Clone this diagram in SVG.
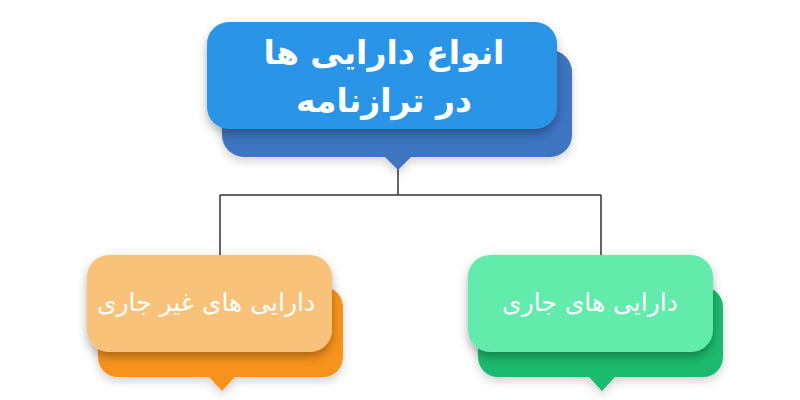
<svg xmlns="http://www.w3.org/2000/svg" width="800" height="400" viewBox="0 0 800 400">
<defs>
<style>
.t{font-family:"DejaVu Sans",sans-serif;fill:#fff;text-anchor:middle;direction:rtl}
.conn{stroke:#333;stroke-width:1.5;fill:none}
</style>
<filter id="sh" x="-20%" y="-20%" width="140%" height="160%">
<feDropShadow dx="0" dy="5" stdDeviation="5" flood-color="#000" flood-opacity="0.3"/>
</filter>
<filter id="sh2" x="-20%" y="-20%" width="140%" height="160%">
<feDropShadow dx="0" dy="4" stdDeviation="5" flood-color="#000" flood-opacity="0.18"/>
</filter>
</defs>
<rect width="800" height="400" fill="#fff"/>
<g id="connectors">
<path class="conn" d="M398 168V195M220 195H601M220 195V256M601 195V256"/>
</g>
<g id="top">
<g filter="url(#sh2)">
<rect x="222" y="50" width="350" height="107" rx="22" fill="#3D74C1"/>
<path d="M384 156L398 170L412 156Z" fill="#3D74C1"/>
</g>
<rect x="207" y="22" width="350" height="107" rx="22" fill="#2994E6" filter="url(#sh)"/>
<text class="t" x="384" y="64" font-size="33" font-weight="bold">انواع دارایی ها</text>
<text class="t" x="384" y="112" font-size="33" font-weight="bold">در ترازنامه</text>
</g>
<g id="left">
<g filter="url(#sh2)">
<rect x="98" y="287" width="245" height="90" rx="20" fill="#F7931E"/>
<path d="M208 376L222 391L236 376Z" fill="#F7931E"/>
</g>
<rect x="87" y="255" width="245" height="97" rx="22" fill="#F9C27A" filter="url(#sh)"/>
<text class="t" x="206" y="311" font-size="25">دارایی های غیر جاری</text>
</g>
<g id="right">
<g filter="url(#sh2)">
<rect x="478" y="287" width="245" height="90" rx="20" fill="#1DBA6E"/>
<path d="M588 376L602 391L616 376Z" fill="#1DBA6E"/>
</g>
<rect x="468" y="255" width="245" height="97" rx="22" fill="#62EBAB" filter="url(#sh)"/>
<text class="t" x="590" y="311" font-size="25">دارایی های جاری</text>
</g>
</svg>
